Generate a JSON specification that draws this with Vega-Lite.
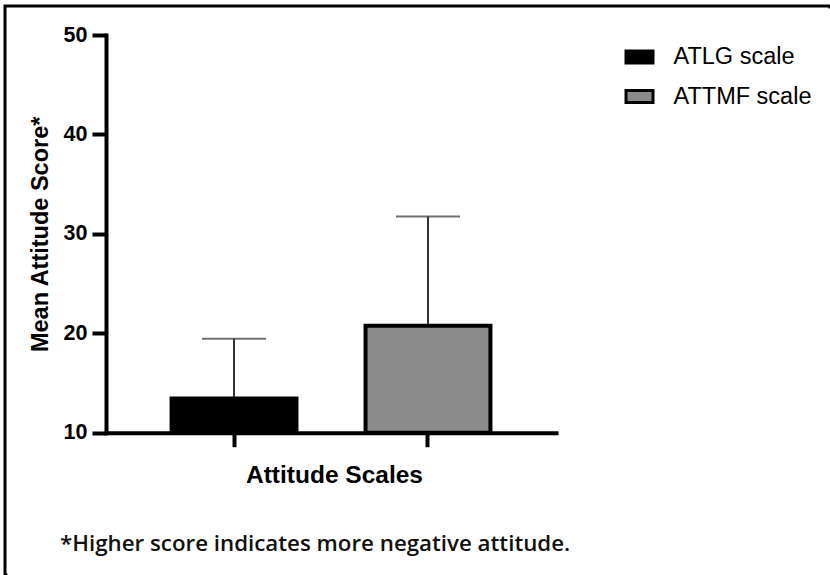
{
  "$schema": "https://vega.github.io/schema/vega-lite/v6.json",
  "width": 825,
  "height": 569,
  "autosize": {"type": "none"},
  "padding": {"left": 5, "top": 6, "right": 0, "bottom": 0},
  "background": "white",
  "view": {"stroke": "black", "strokeWidth": 3, "strokeDash": [826, 1392, 600], "strokeCap": "square"},
  "config": {"view": {"stroke": "black", "strokeWidth": 3, "strokeDash": [826, 1392, 600], "strokeCap": "square"}},
  "title": {
    "text": "*Higher score indicates more negative attitude.",
    "orient": "bottom", "anchor": "start", "frame": "group",
    "offset": -42, "dx": 55,
    "font": "Open Sans", "fontSize": 22.3, "fontWeight": 600, "color": "#111111"
  },
  "data": {"values": [
    {"scale": "ATLG scale", "mean": 13.45, "upper": 19.45},
    {"scale": "ATTMF scale", "mean": 20.75, "upper": 31.75}
  ]},
  "encoding": {
    "x": {
      "field": "scale", "type": "nominal", "sort": null,
      "scale": {"range": [101, 551], "paddingInner": 0.356, "paddingOuter": 0.338},
      "axis": {
        "orient": "bottom", "offset": -142.3, "title": "Attitude Scales", "labels": false,
        "domainColor": "black", "domainWidth": 4, "domainCap": "square",
        "tickColor": "black", "tickWidth": 4, "tickSize": 14,
        "titleFont": "Liberation Sans", "titleFontSize": 24.5, "titleFontWeight": "bold",
        "titleColor": "black", "titlePadding": 15, "titleX": 329
      }
    },
    "y": {
      "field": "mean", "type": "quantitative", "title": "Mean Attitude Score*",
      "scale": {"domain": [10, 50], "range": [426.7, 29], "zero": false, "nice": false},
      "axis": {
        "orient": "left", "offset": -101, "values": [10, 20, 30, 40, 50], "grid": false,
        "domainColor": "black", "domainWidth": 4, "domainCap": "square",
        "tickColor": "black", "tickWidth": 4, "tickSize": 14,
        "labelFont": "Liberation Sans", "labelFontSize": 21.5, "labelFontWeight": "bold",
        "labelColor": "black", "labelPadding": 5,
        "title": "Mean Attitude Score*",
        "titleFont": "Liberation Sans", "titleFontSize": 23.5, "titleFontWeight": "bold",
        "titleColor": "black", "titlePadding": 11
      }
    }
  },
  "layer": [
    {
      "mark": {"type": "rule", "color": "#333333", "strokeWidth": 2},
      "encoding": {"y2": {"field": "upper"}}
    },
    {
      "mark": {"type": "tick", "color": "#333333", "thickness": 2, "size": 64},
      "encoding": {"y": {"field": "upper", "type": "quantitative", "title": "Mean Attitude Score*"}}
    },
    {
      "mark": {"type": "bar", "stroke": "black", "strokeWidth": 4},
      "encoding": {
        "y2": {"datum": 10},
        "fill": {
          "field": "scale", "type": "nominal",
          "scale": {"range": ["#000000", "#8c8c8c"]},
          "legend": {
            "title": null, "orient": "none", "legendX": 619.5, "legendY": 36,
            "symbolType": "M-1,-0.45H1V0.45H-1Z", "symbolSize": 729,
            "symbolStrokeColor": "black", "symbolStrokeWidth": 3,
            "labelFont": "Liberation Sans", "labelFontSize": 23.5, "labelColor": "black",
            "labelOffset": 19, "rowPadding": 11.5, "padding": 0
          }
        }
      }
    }
  ]
}
